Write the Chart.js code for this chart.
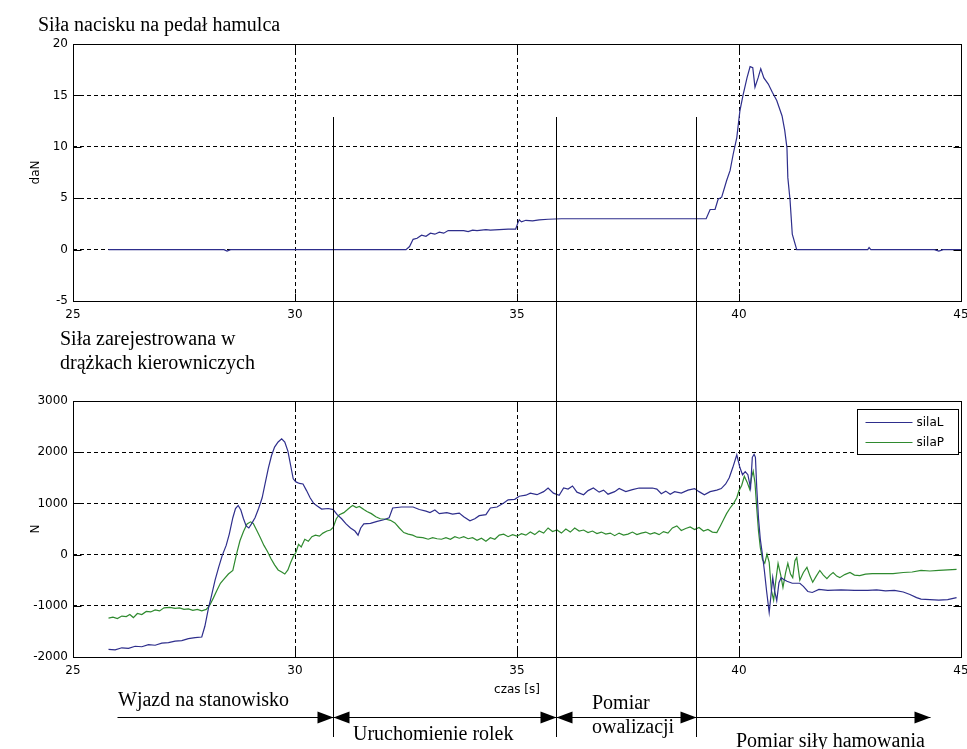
<!DOCTYPE html>
<html>
<head>
<meta charset="utf-8">
<script src="https://cdn.jsdelivr.net/npm/chart.js@4.4.0/dist/chart.umd.min.js"></script>
<style>
  body { margin: 0; background: #fff; }
  #wrap { position: relative; width: 967px; height: 749px; overflow: hidden; }
  canvas { position: absolute; left: 0; top: 0; }
  .lbl { position: absolute; font-family: "Liberation Serif", serif; font-size: 20px; line-height: 22px; white-space: nowrap; color: #000; }
</style>
</head>
<body>
<div id="wrap">
  <canvas id="topChart" width="967" height="749"></canvas>
  <canvas id="bottomChart" width="967" height="749"></canvas>
  <div class="lbl" style="left:38px;top:13px">Siła nacisku na pedał hamulca</div>
  <div class="lbl" style="left:60px;top:326px;line-height:24px">Siła zarejestrowana w<br>drążkach kierowniczych</div>
  <div class="lbl" style="left:118px;top:688px">Wjazd na stanowisko</div>
  <div class="lbl" style="left:353px;top:722px">Uruchomienie rolek</div>
  <div class="lbl" style="left:592px;top:690px;line-height:24px">Pomiar<br>owalizacji</div>
  <div class="lbl" style="left:736px;top:729px">Pomiar siły hamowania</div>
</div>
<script>
// time axis [s]
const xTicks = [25, 30, 35, 40, 45];
const topYTicks = [-5, 0, 5, 10, 15, 20];
const bottomYTicks = [-2000, -1000, 0, 1000, 2000, 3000];

// phase boundaries [s] and arrow ends
const phaseBounds = [30.86, 35.88, 39.03];
const arrowStart = 26.0;
const arrowEnd = 44.3;

// brake pedal force [daN]: [t, value]
const brakeForce = [
  [25.8,0],[27.5,0],[28.4,0],[28.47,-0.15],[28.55,0],[30,0],[31,0],[32.5,0],[32.58,0.3],[32.66,1.0],
  [32.75,1.1],[32.85,1.4],[32.95,1.3],[33.05,1.6],[33.15,1.5],[33.25,1.7],[33.35,1.6],[33.45,1.85],
  [33.6,1.85],[33.8,1.85],[33.9,1.75],[34.0,1.9],[34.1,1.85],[34.3,1.95],[34.4,1.9],[34.6,1.95],
  [34.8,2.0],[34.97,2.0],[35.02,2.6],[35.05,2.9],[35.1,2.7],[35.2,2.85],[35.35,2.8],[35.5,2.9],
  [35.7,2.95],[36,3.0],[37,3.0],[38,3.0],[39.26,3.0],[39.35,3.9],[39.46,3.9],[39.53,4.9],[39.61,5.1],
  [39.72,6.7],[39.8,7.7],[39.87,9.3],[39.95,10.9],[40.02,13.5],[40.09,15.0],[40.18,16.7],[40.25,17.8],
  [40.31,17.7],[40.36,15.8],[40.43,16.7],[40.49,17.6],[40.56,16.7],[40.66,16.1],[40.75,15.3],
  [40.85,14.5],[40.97,13.0],[41.03,11.6],[41.08,9.9],[41.1,7.0],[41.15,4.8],[41.2,1.5],[41.3,0],
  [42,0],[42.9,0],[42.93,0.2],[42.97,0],[44.4,0],[44.5,-0.15],[44.6,0],[45,0]
];

// steering rod forces [N]: [t, value]
const silaL = [
  [25.8,-1850],[25.95,-1860],[26.1,-1820],[26.25,-1830],[26.4,-1790],[26.55,-1800],[26.7,-1760],
  [26.85,-1770],[27.0,-1730],[27.15,-1720],[27.3,-1690],[27.45,-1680],[27.6,-1640],[27.75,-1620],
  [27.9,-1610],[27.97,-1400],[28.05,-1050],[28.12,-800],[28.2,-500],[28.28,-250],[28.36,-20],
  [28.45,180],[28.52,400],[28.6,720],[28.66,900],[28.72,960],[28.78,870],[28.84,700],[28.9,560],
  [28.96,520],[29.02,600],[29.1,720],[29.18,900],[29.26,1110],[29.33,1400],[29.4,1690],[29.47,1930],
  [29.54,2100],[29.62,2200],[29.7,2260],[29.77,2200],[29.84,2020],[29.9,1750],[29.96,1480],
  [30.02,1420],[30.1,1390],[30.18,1380],[30.26,1250],[30.34,1110],[30.42,1000],[30.5,950],[30.6,890],
  [30.75,900],[30.86,880],[30.95,780],[31.05,700],[31.15,600],[31.25,520],[31.35,460],[31.42,380],
  [31.48,520],[31.55,600],[31.7,610],[31.85,650],[32.0,680],[32.12,720],[32.2,910],[32.4,930],
  [32.66,930],[32.8,880],[32.95,850],[33.04,820],[33.15,870],[33.25,800],[33.42,820],[33.55,790],
  [33.7,810],[33.8,740],[33.94,660],[34.05,700],[34.15,760],[34.3,780],[34.4,910],[34.55,930],
  [34.7,1010],[34.8,1070],[34.95,1080],[35.05,1140],[35.2,1160],[35.3,1200],[35.45,1170],[35.6,1230],
  [35.7,1300],[35.82,1200],[35.95,1160],[36.05,1300],[36.15,1280],[36.25,1340],[36.35,1220],
  [36.5,1170],[36.6,1250],[36.72,1300],[36.85,1220],[36.95,1260],[37.05,1180],[37.2,1230],[37.3,1290],
  [37.45,1230],[37.6,1270],[37.75,1300],[37.9,1300],[38.05,1300],[38.15,1280],[38.25,1190],
  [38.35,1240],[38.45,1180],[38.55,1230],[38.7,1200],[38.85,1260],[39.0,1290],[39.1,1230],
  [39.22,1170],[39.35,1230],[39.5,1260],[39.6,1290],[39.7,1380],[39.78,1500],[39.86,1700],
  [39.95,1950],[40.02,1700],[40.08,1560],[40.14,1620],[40.2,1560],[40.26,1300],[40.3,1900],
  [40.34,1960],[40.37,1900],[40.4,1300],[40.44,700],[40.48,300],[40.52,50],[40.57,-300],[40.62,-700],
  [40.68,-1130],[40.72,-800],[40.76,-450],[40.8,-700],[40.85,-900],[40.9,-550],[40.95,-450],
  [41.0,-480],[41.08,-520],[41.2,-560],[41.37,-560],[41.45,-620],[41.55,-720],[41.65,-740],
  [41.8,-680],[42.0,-700],[42.3,-690],[42.6,-700],[42.9,-700],[43.1,-690],[43.3,-710],[43.5,-700],
  [43.7,-730],[43.85,-780],[44.0,-840],[44.1,-870],[44.3,-880],[44.5,-890],[44.7,-880],[44.9,-840]
];
const silaP = [
  [25.8,-1240],[25.9,-1220],[26.0,-1250],[26.1,-1200],[26.2,-1210],[26.28,-1170],[26.36,-1230],
  [26.45,-1150],[26.55,-1170],[26.65,-1110],[26.75,-1120],[26.85,-1080],[26.95,-1100],[27.05,-1040],
  [27.18,-1030],[27.3,-1050],[27.4,-1040],[27.5,-1070],[27.6,-1060],[27.7,-1090],[27.8,-1070],
  [27.9,-1100],[28.0,-1070],[28.08,-990],[28.16,-850],[28.24,-700],[28.32,-560],[28.4,-480],
  [28.5,-380],[28.6,-310],[28.68,0],[28.76,270],[28.84,450],[28.92,600],[29.0,640],[29.06,610],
  [29.14,470],[29.22,330],[29.3,180],[29.38,60],[29.46,-80],[29.54,-200],[29.62,-300],[29.7,-340],
  [29.77,-380],[29.84,-300],[29.9,-160],[29.96,-40],[30.02,40],[30.08,200],[30.14,150],[30.22,300],
  [30.3,260],[30.38,350],[30.46,380],[30.55,360],[30.63,420],[30.72,460],[30.8,480],[30.86,530],
  [30.93,700],[31.0,780],[31.1,820],[31.17,870],[31.25,930],[31.3,960],[31.38,920],[31.45,940],
  [31.55,880],[31.62,840],[31.72,800],[31.82,740],[31.92,700],[32.05,690],[32.15,670],[32.25,620],
  [32.35,520],[32.45,430],[32.55,400],[32.65,380],[32.75,340],[32.88,330],[33.0,300],[33.1,330],
  [33.2,310],[33.3,300],[33.4,330],[33.5,300],[33.6,350],[33.7,320],[33.8,350],[33.9,310],[34.0,330],
  [34.1,280],[34.2,320],[34.3,260],[34.4,330],[34.5,300],[34.6,380],[34.7,400],[34.8,350],[34.9,390],
  [35.0,360],[35.1,410],[35.2,380],[35.3,440],[35.4,390],[35.5,460],[35.6,420],[35.7,520],[35.8,450],
  [35.9,480],[36.0,420],[36.1,500],[36.2,440],[36.3,520],[36.4,460],[36.5,480],[36.6,430],[36.7,460],
  [36.8,410],[36.9,440],[37.0,400],[37.1,420],[37.2,370],[37.3,420],[37.4,380],[37.5,400],[37.6,440],
  [37.7,390],[37.8,420],[37.9,440],[38.0,400],[38.1,430],[38.2,390],[38.3,450],[38.4,420],[38.5,520],
  [38.6,560],[38.7,470],[38.8,510],[38.9,540],[39.0,490],[39.1,530],[39.2,460],[39.3,490],[39.4,440],
  [39.5,430],[39.58,560],[39.65,680],[39.72,800],[39.8,910],[39.88,1000],[39.95,1110],[40.0,1250],
  [40.06,1350],[40.12,1530],[40.18,1420],[40.24,1280],[40.28,1500],[40.32,1630],[40.36,1400],
  [40.4,900],[40.44,450],[40.48,140],[40.53,-100],[40.58,-170],[40.63,10],[40.68,-150],[40.73,-700],
  [40.78,-890],[40.83,-500],[40.88,-170],[40.94,-400],[40.99,-640],[41.05,-350],[41.1,-170],
  [41.16,-380],[41.21,-450],[41.26,-120],[41.3,-60],[41.37,-500],[41.45,-350],[41.53,-250],
  [41.6,-420],[41.66,-540],[41.74,-420],[41.82,-310],[41.9,-400],[41.98,-470],[42.05,-400],
  [42.12,-350],[42.2,-420],[42.27,-450],[42.38,-390],[42.5,-350],[42.6,-400],[42.72,-410],
  [42.85,-380],[43.0,-370],[43.2,-370],[43.47,-370],[43.7,-350],[43.9,-340],[44.1,-310],[44.3,-320],
  [44.5,-310],[44.7,-300],[44.9,-290]
];

const BLUE = '#2e2e8c';
const GREEN = '#2f8a2f';
const tickFont = { family: 'DejaVu Sans', size: 12 };

const toXY = arr => arr.map(p => ({ x: p[0], y: p[1] }));

// box around the plot area plus inward tick marks (matlab style)
const frame = {
  id: 'frame',
  afterDraw(chart) {
    const { ctx, chartArea: a, scales } = chart;
    const L = Math.round(a.left) + 0.5, R = Math.round(a.right) + 0.5;
    const T = Math.round(a.top) + 0.5, B = Math.round(a.bottom) + 0.5;
    ctx.save();
    ctx.strokeStyle = '#000';
    ctx.lineWidth = 1;
    ctx.setLineDash([]);
    ctx.strokeRect(L, T, R - L, B - T);
    ctx.beginPath();
    scales.x.ticks.forEach(t => {
      const px = Math.round(scales.x.getPixelForValue(t.value)) + 0.5;
      ctx.moveTo(px, B); ctx.lineTo(px, B - 8);
      ctx.moveTo(px, T); ctx.lineTo(px, T + 8);
    });
    scales.y.ticks.forEach(t => {
      const py = Math.round(scales.y.getPixelForValue(t.value)) + 0.5;
      ctx.moveTo(L, py); ctx.lineTo(L + 8, py);
      ctx.moveTo(R, py); ctx.lineTo(R - 8, py);
    });
    ctx.stroke();
    ctx.restore();
  }
};

// phase boundaries, arrows and legend
const phases = {
  id: 'phases',
  afterDraw(chart) {
    const { ctx, chartArea: a, scales: { x } } = chart;
    const px = v => Math.round(x.getPixelForValue(v)) + 0.5;
    ctx.save();
    ctx.strokeStyle = '#000';
    ctx.fillStyle = '#000';
    ctx.lineWidth = 1;
    phaseBounds.forEach(b => {
      ctx.beginPath();
      ctx.moveTo(px(b), 117);
      ctx.lineTo(px(b), 737);
      ctx.stroke();
    });
    const y = 717.5;
    const head = (xt, dir) => {
      ctx.beginPath();
      ctx.moveTo(xt, y);
      ctx.lineTo(xt - dir * 16, y - 6);
      ctx.lineTo(xt - dir * 16, y + 6);
      ctx.closePath();
      ctx.fill();
    };
    const edges = [arrowStart, ...phaseBounds, arrowEnd];
    for (let i = 0; i < edges.length - 1; i++) {
      const x0 = px(edges[i]), x1 = px(edges[i + 1]);
      ctx.beginPath();
      ctx.moveTo(x0, y);
      ctx.lineTo(x1, y);
      ctx.stroke();
      head(x1, 1);
      if (i > 0 && i < edges.length - 2) head(x0, -1);
    }

    // legend
    const bx = Math.round(a.right) - 104 + 0.5, by = Math.round(a.top) + 8 + 0.5;
    ctx.fillStyle = '#fff';
    ctx.fillRect(bx, by, 101, 45);
    ctx.strokeRect(bx, by, 101, 45);
    ctx.font = '12px "DejaVu Sans"';
    ctx.textBaseline = 'middle';
    chart.data.datasets.forEach((d, i) => {
      const ly = by + 13 + i * 20;
      ctx.strokeStyle = d.borderColor;
      ctx.beginPath();
      ctx.moveTo(bx + 8, ly);
      ctx.lineTo(bx + 55, ly);
      ctx.stroke();
      ctx.fillStyle = '#000';
      ctx.fillText(d.label, bx + 59, ly);
    });
    ctx.restore();
  }
};

function xScale(height, title) {
  return {
    type: 'linear', min: 25, max: 45,
    afterBuildTicks: s => { s.ticks = xTicks.map(v => ({ value: v })); },
    afterFit: s => { s.height = height; s.paddingLeft = 0; s.paddingRight = 0; },
    grid: { color: '#000', lineWidth: 1, drawTicks: false },
    border: { display: false, dash: [4, 3] },
    ticks: { color: '#000', font: tickFont, padding: 7, maxRotation: 0, autoSkip: false, callback: v => String(v) },
    title: title ? { display: true, text: title, color: '#000', font: tickFont, padding: { top: 0, bottom: 5 } } : { display: false }
  };
}

function yScale(min, max, ticks, title) {
  return {
    type: 'linear', min, max,
    afterBuildTicks: s => { s.ticks = ticks.map(v => ({ value: v })); },
    afterFit: s => { s.width = 73; },
    grid: { color: '#000', lineWidth: 1, drawTicks: false },
    border: { display: false, dash: [4, 3] },
    ticks: { color: '#000', font: tickFont, padding: 5, callback: v => String(v) },
    title: { display: true, text: title, color: '#000', font: tickFont, padding: { top: 29, bottom: 0 } }
  };
}

const common = {
  responsive: false,
  animation: false,
  devicePixelRatio: 1,
  plugins: { legend: { display: false }, tooltip: { enabled: false } },
  elements: { point: { radius: 0 }, line: { tension: 0 } }
};

new Chart(document.getElementById('topChart'), {
  type: 'line',
  data: {
    datasets: [{ label: 'daN', data: toXY(brakeForce), borderColor: BLUE, borderWidth: 1.2 }]
  },
  options: {
    ...common,
    layout: { padding: { left: 0, right: 6, top: 44, bottom: 418 } },
    scales: { x: xScale(30, null), y: yScale(-5, 20, topYTicks, 'daN') }
  },
  plugins: [frame]
});

new Chart(document.getElementById('bottomChart'), {
  type: 'line',
  data: {
    datasets: [
      { label: 'silaL', data: toXY(silaL), borderColor: BLUE, borderWidth: 1.2 },
      { label: 'silaP', data: toXY(silaP), borderColor: GREEN, borderWidth: 1.2 }
    ]
  },
  options: {
    ...common,
    layout: { padding: { left: 0, right: 6, top: 401, bottom: 47 } },
    scales: { x: xScale(45, 'czas [s]'), y: yScale(-2000, 3000, bottomYTicks, 'N') }
  },
  plugins: [frame, phases]
});
</script>
</body>
</html>
